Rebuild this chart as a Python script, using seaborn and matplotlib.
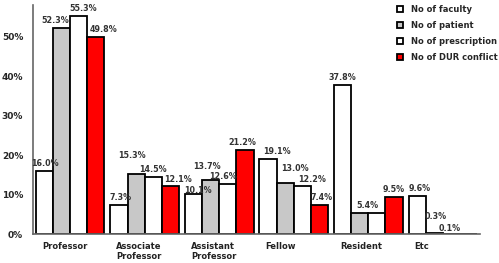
import matplotlib
matplotlib.use("Agg")
import matplotlib.pyplot as plt
import numpy as np
import pandas as pd
import seaborn as sns

# data (percent)
categories = ["Professor", "Associate\nProfessor", "Assistant\nProfessor", "Fellow", "Resident", "Etc"]
series = ["No of faculty", "No of patient", "No of prescription", "No of DUR conflict"]
faculty = [16.0, 7.3, 10.1, 19.1, 37.8, 9.6]
patient = [52.3, 15.3, 13.7, 13.0, 5.4, 0.3]
prescription = [55.3, 14.5, 12.6, 12.2, 5.4, 0.1]
dur_conflict = [49.8, 12.1, 21.2, 7.4, 9.5, 0.0]
colors = ["#FFFFFF", "#C8C8C8", "#FFFFFF", "#FF0000"]

values = [faculty, patient, prescription, dur_conflict]
df = pd.DataFrame({
    "category": [c for s in series for c in categories],
    "series": [s for s in series for c in categories],
    "value": [v for vals in values for v in vals],
})

# label nudges in pixels (dx, dy); None = no label shown
nudges = [
    [(0, 3), (2, 3), (4, -1), (9, 3), (0, 3), (3, 3)],
    [(-6, 3), (-4, 14), (-4, 9), (10, 10), (8, 3), (1, 12)],
    [(4, 3), (0, 3), (-5, 3), (10, 2), None, (-2, 1)],
    [(8, 3), (8, 2), (-3, 3), (2, 3), (0, 3), None],
]

sns.set_style("white")
plt.rcParams["font.family"] = ["DejaVu Sans"]

fig = plt.figure(figsize=(4.99, 2.63), dpi=100)
ax = fig.add_axes([0.066, 0.110, 0.896, 0.871])

sns.barplot(data=df, x="category", y="value", hue="series", order=categories,
            hue_order=series, palette=colors, saturation=1, width=0.92,
            edgecolor="black", linewidth=1.3, ax=ax, legend=True)

# value labels above bars
for cont, vals, nd in zip(ax.containers, values, nudges):
    for bar, v, off in zip(cont, vals, nd):
        if off is None:
            continue
        ax.annotate(f"{v:.1f}%", (bar.get_x() + bar.get_width() / 2, bar.get_height()),
                    xytext=off, textcoords="offset pixels", ha="center", va="bottom",
                    fontsize=5.8, fontweight="bold", color="#333333")

ax.set_ylim(0, 58)
ax.set_xlim(-0.5, len(categories) - 0.5)
ax.set_yticks([0, 10, 20, 30, 40, 50])
ax.set_yticklabels([f"{t}%" for t in [0, 10, 20, 30, 40, 50]], fontsize=6.5, fontweight="bold")

# group boundary ticks, labels left-aligned inside each group
n = len(categories)
ax.set_xticks(np.arange(n) - 0.5)
ax.set_xticklabels([])
ax.set_xticks(np.arange(n) - 0.38, minor=True)
ax.set_xticklabels(categories, minor=True, fontsize=6, fontweight="bold", ha="left",
                   linespacing=1.15, color="#222222")
ax.tick_params(axis="x", which="major", length=3, width=1, color="#555555", direction="out")
ax.tick_params(axis="x", which="minor", length=0, pad=6)
ax.tick_params(axis="y", length=3, width=1, color="#555555", direction="out", pad=4)
ax.set_xlabel("")
ax.set_ylabel("")

sns.despine(ax=ax)
for s in ["left", "bottom"]:
    ax.spines[s].set_color("#666666")
    ax.spines[s].set_linewidth(1.2)

handles, labels = ax.get_legend_handles_labels()
ax.get_legend().remove()
fig.legend(handles, labels, loc="upper left", bbox_to_anchor=(0.785, 1.0), frameon=False,
           handlelength=0.75, handleheight=0.75, labelspacing=0.85, handletextpad=1.0,
           borderaxespad=0.2, prop={"weight": "bold", "size": 6})

fig.savefig("out.png", dpi=100)
